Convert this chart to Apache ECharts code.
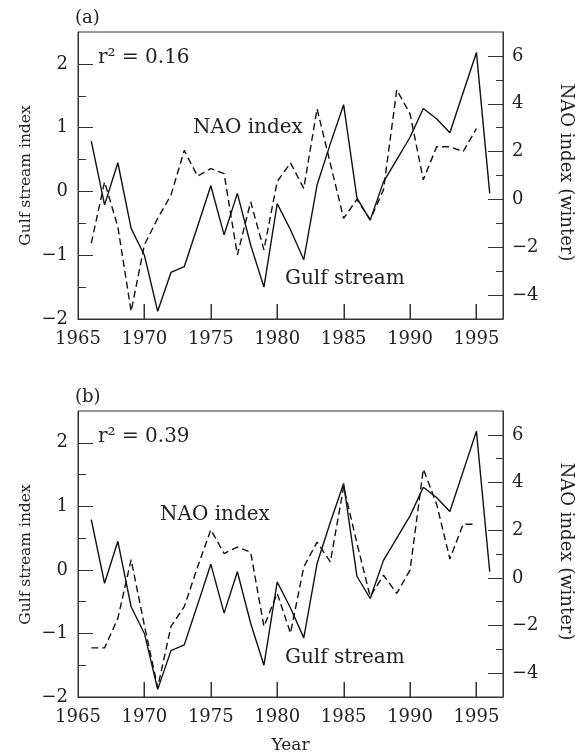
<!DOCTYPE html>
<html>
<head>
<meta charset="utf-8">
<script src="https://cdn.jsdelivr.net/npm/echarts@6/dist/echarts.min.js"></script>
<style>
  html, body { margin: 0; padding: 0; background: #fff; }
  #chart { width: 575px; height: 755px; }
</style>
</head>
<body>
<div id="chart"></div>
<script>
// Years of record
const years = [1966, 1967, 1968, 1969, 1970, 1971, 1972, 1973, 1974, 1975,
               1976, 1977, 1978, 1979, 1980, 1981, 1982, 1983, 1984, 1985,
               1986, 1987, 1988, 1989, 1990, 1991, 1992, 1993, 1994, 1995, 1996];

// Gulf stream index (left axis), 1966-1996
const gulfStream = [0.79, -0.21, 0.45, -0.58, -1.0, -1.88, -1.27, -1.18, -0.55, 0.09,
                    -0.68, -0.03, -0.84, -1.5, -0.19, -0.6, -1.07, 0.1, 0.75, 1.36,
                    -0.1, -0.45, 0.15, 0.5, 0.85, 1.3, 1.14, 0.92, 1.55, 2.18, -0.03];

// Winter NAO index (right axis), 1966-1995
const naoA = [-1.83, 0.73, -1.14, -4.68, -1.9, -0.79, 0.18, 2.05, 0.97, 1.29,
              1.08, -2.32, -0.1, -2.11, 0.75, 1.53, 0.46, 3.79, 1.5, -0.79,
              0.0, -0.85, 0.4, 4.58, 3.58, 0.82, 2.2, 2.2, 2.0, 2.96];
const naoB = [-2.94, -2.94, -1.7, 0.76, -2.0, -4.6, -2.04, -1.21, 0.45, 2.02,
              1.02, 1.29, 1.08, -2.04, -0.65, -2.32, 0.46, 1.5, 0.67, 3.82,
              1.46, -0.79, 0.11, -0.65, 0.32, 4.56, 3.1, 0.79, 2.25, 2.25];

// Axis ticks and labels
const gulfTicks = [-2, -1, 0, 1, 2];
const gulfMinorTicks = [-1.5, -0.5, 0.5, 1.5];
const naoTicks = [-4, -2, 0, 2, 4, 6];
const naoMinorTicks = [-3, -1, 1, 3, 5];
const yearTicks = [1970, 1975, 1980, 1985, 1990, 1995];
const yearLabels = [1965, 1970, 1975, 1980, 1985, 1990, 1995];

const panelTags = ['(a)', '(b)'];
const rSquared = ['0.16', '0.39'];
const naoSeries = [naoA, naoB];

const FONT = 'DejaVu Serif';
const INK = '#222';
const AXIS = '#333';
const gridTops = [32, 411];
const gridHeight = 287;
const AXES_PER_PANEL = 4;
const GULF_MIN = -2, GULF_MAX = 2.5;
const NAO_MIN = -5, NAO_MAX = 7;
const TICK_LEN = 15;

const minus = v => String(v).replace('-', '\u2212');

const grids = [], xAxes = [], yAxes = [], series = [], graphics = [];

gridTops.forEach((top, p) => {
  const yBase = p * AXES_PER_PANEL;
  grids.push({ left: 78, right: 72, top: top, height: gridHeight, show: true,
               borderColor: AXIS, borderWidth: 1, backgroundColor: 'transparent' });

  xAxes.push({
    type: 'value', gridIndex: p, min: 1965, max: 1997, position: 'bottom',
    axisLine: { show: true, onZero: false, lineStyle: { color: AXIS, width: 1 } },
    axisTick: { show: false },
    axisLabel: { show: true, customValues: yearLabels, margin: 11, color: INK,
                 fontFamily: FONT, fontSize: 18, formatter: v => String(v) },
    splitLine: { show: false },
    name: p === 1 ? 'Year' : '', nameLocation: 'middle', nameGap: 40,
    nameTextStyle: { fontFamily: FONT, fontSize: 17, color: INK }
  });

  const base = {
    type: 'value', gridIndex: p, splitLine: { show: false }
  };
  // left: major ticks with labels
  yAxes.push(Object.assign({}, base, {
    position: 'left', min: GULF_MIN, max: GULF_MAX,
    axisLine: { show: true, onZero: false, lineStyle: { color: AXIS, width: 1 } },
    axisTick: { show: true, inside: true, length: TICK_LEN, customValues: gulfTicks,
                lineStyle: { color: AXIS, width: 1 } },
    axisLabel: { show: true, customValues: gulfTicks, margin: 10, color: INK,
                 fontFamily: FONT, fontSize: 18, formatter: minus }
  }));
  // left: half-unit ticks
  yAxes.push(Object.assign({}, base, {
    position: 'left', min: GULF_MIN, max: GULF_MAX,
    axisLine: { show: false, onZero: false },
    axisTick: { show: true, inside: true, length: 8, customValues: gulfMinorTicks,
                lineStyle: { color: AXIS, width: 1 } },
    axisLabel: { show: false, customValues: gulfMinorTicks }
  }));
  // right: major ticks with labels
  yAxes.push(Object.assign({}, base, {
    position: 'right', min: NAO_MIN, max: NAO_MAX,
    axisLine: { show: true, onZero: false, lineStyle: { color: AXIS, width: 1 } },
    axisTick: { show: true, inside: true, length: TICK_LEN, customValues: naoTicks,
                lineStyle: { color: AXIS, width: 1 } },
    axisLabel: { show: true, customValues: naoTicks, margin: 9, color: INK,
                 fontFamily: FONT, fontSize: 18, formatter: minus }
  }));
  // right: odd-value ticks
  yAxes.push(Object.assign({}, base, {
    position: 'right', min: NAO_MIN, max: NAO_MAX,
    axisLine: { show: false, onZero: false },
    axisTick: { show: true, inside: true, length: 7, customValues: naoMinorTicks,
                lineStyle: { color: AXIS, width: 1 } },
    axisLabel: { show: false, customValues: naoMinorTicks }
  }));

  series.push({
    type: 'line', xAxisIndex: p, yAxisIndex: yBase,
    data: years.map((y, i) => [y, gulfStream[i]]),
    showSymbol: false, symbol: 'none', animation: false,
    lineStyle: { color: '#111', width: 1.4, type: 'solid' }
  });
  series.push({
    type: 'line', xAxisIndex: p, yAxisIndex: yBase + 2,
    data: naoSeries[p].map((v, i) => [years[i], v]),
    showSymbol: false, symbol: 'none', animation: false,
    lineStyle: { color: '#111', width: 1.4, type: [7, 4] }
  });
  // inward year ticks standing on the bottom axis
  series.push({
    type: 'custom', xAxisIndex: p, yAxisIndex: yBase, silent: true,
    clip: false, animation: false, z: 100,
    data: yearTicks.map(yr => [yr, GULF_MIN]),
    renderItem: (params, api) => {
      const pt = api.coord([api.value(0), api.value(1)]);
      return {
        type: 'rect',
        shape: { x: Math.round(pt[0]) - 0.5, y: pt[1] - TICK_LEN, width: 1.5, height: TICK_LEN },
        style: { fill: AXIS }
      };
    }
  });

  const mid = top + gridHeight / 2;
  const txt = (x, y, text, size) => ({
    type: 'text', x: x, y: y, silent: true,
    style: { text: text, fontFamily: FONT, fontSize: size, fill: INK,
             textAlign: 'left', textVerticalAlign: 'middle' }
  });

  graphics.push(txt(75, top - 14, panelTags[p], 18));
  graphics.push(txt(98, top + 26, 'r\u00b2 = ' + rSquared[p], 20));
  graphics.push(txt(p === 0 ? 193 : 160, p === 0 ? top + 96 : top + 104, 'NAO index', 20));
  graphics.push(txt(285, top + 247, 'Gulf stream', 20));
  graphics.push({
    type: 'text', x: 26, y: mid, rotation: Math.PI / 2, silent: true,
    style: { text: 'Gulf stream index', fontFamily: FONT, fontSize: 15.5, fill: INK,
             textAlign: 'center', textVerticalAlign: 'middle' }
  });
  graphics.push({
    type: 'text', x: 566, y: mid - 3, rotation: -Math.PI / 2, silent: true,
    style: { text: 'NAO index (winter)', fontFamily: FONT, fontSize: 18, fill: INK,
             textAlign: 'center', textVerticalAlign: 'middle' }
  });
});

const chart = echarts.init(document.getElementById('chart'), null, { renderer: 'canvas' });
chart.setOption({
  animation: false,
  backgroundColor: '#fff',
  grid: grids,
  xAxis: xAxes,
  yAxis: yAxes,
  series: series,
  graphic: graphics
});
</script>
</body>
</html>
